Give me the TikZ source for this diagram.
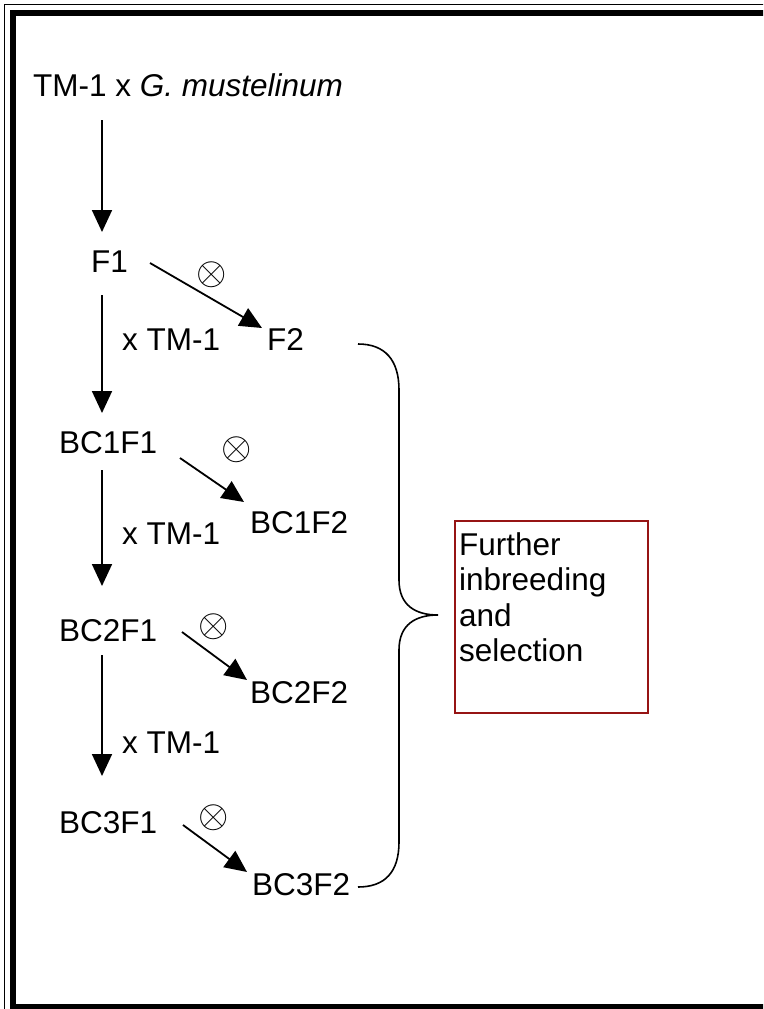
\documentclass[tikz,border=0pt]{standalone}
\usepackage{fontspec}
\usepackage{graphicx}
\setmainfont{Liberation Sans}
\usetikzlibrary{arrows.meta}
\definecolor{boxred}{RGB}{150,20,20}
\newcommand{\selfmark}{\scalebox{3.9}{$\otimes$}}
\tikzset{
  lbl/.style={anchor=base west, inner sep=0pt, font=\fontsize{31.5}{36}\selectfont},
  selfsym/.style={inner sep=0pt},
  arr/.style={line width=1.8pt, -{Triangle[length=22pt,width=20pt]}},
  brace/.style={line width=1.6pt},
  notebox/.style={draw=boxred, line width=1.8pt}
}
\begin{document}
\begin{tikzpicture}[x=1pt,y=-1pt]
\useasboundingbox (0,0) rectangle (763,1009);
\clip (0,0) rectangle (763,1009);
% frame
\draw[line width=1.5pt] (4.5,1030) -- (4.5,4.5) -- (800,4.5);
\draw[line width=6pt] (13,1006.5) -- (13,13) -- (800,13);
\draw[line width=6pt] (10,1006.5) -- (800,1006.5);

% labels
\node[lbl] (P) at (33,96.5) {TM-1 x \textit{G. mustelinum}};
\node[lbl] (F1) at (91,272) {F1};
\node[lbl] (F2) at (267,350) {F2};
\node[lbl] (X1) at (122,350) {x TM-1};
\node[lbl] (B1) at (59,453) {BC1F1};
\node[lbl] (B1F2) at (250,533) {BC1F2};
\node[lbl] (X2) at (122,544) {x TM-1};
\node[lbl] (B2) at (59,641) {BC2F1};
\node[lbl] (B2F2) at (250,703) {BC2F2};
\node[lbl] (X3) at (122,753) {x TM-1};
\node[lbl] (B3) at (59,833) {BC3F1};
\node[lbl] (B3F2) at (252,895) {BC3F2};

% selfing symbols
\node[selfsym] (S0) at (212,275) {\selfmark};
\node[selfsym] (S1) at (237,450) {\selfmark};
\node[selfsym] (S2) at (214,627) {\selfmark};
\node[selfsym] (S3) at (214,818) {\selfmark};

% arrow end points
\coordinate (v0a) at (102,120);  \coordinate (v0b) at (102,232);
\coordinate (v1a) at (102,295);  \coordinate (v1b) at (102,413);
\coordinate (v2a) at (102,470);  \coordinate (v2b) at (102,586);
\coordinate (v3a) at (102,655);  \coordinate (v3b) at (102,776);
\coordinate (d0a) at (150,263);  \coordinate (d0b) at (262,328);
\coordinate (d1a) at (180,458);  \coordinate (d1b) at (244,502);
\coordinate (d2a) at (182,632);  \coordinate (d2b) at (247,680);
\coordinate (d3a) at (183,825);  \coordinate (d3b) at (247,872);

\draw[arr] (v0a) -- (v0b);
\draw[arr] (v1a) -- (v1b);
\draw[arr] (v2a) -- (v2b);
\draw[arr] (v3a) -- (v3b);
\draw[arr] (d0a) -- (d0b);
\draw[arr] (d1a) -- (d1b);
\draw[arr] (d2a) -- (d2b);
\draw[arr] (d3a) -- (d3b);

% brace
\coordinate (bt) at (358,344);
\coordinate (bb) at (358,887);
\coordinate (tip) at (438,615);
\draw[brace] (bt) .. controls (385,344) and (399,360) .. (399,390) -- (399,580)
  .. controls (399,605) and (415,615) .. (tip)
  .. controls (415,615) and (399,625) .. (399,650) -- (399,842)
  .. controls (399,872) and (385,887) .. (bb);

% box
\node[notebox, anchor=north west, minimum width=193pt, minimum height=192pt, inner sep=0pt] (N) at (454,520) {};
\node[anchor=north west, inner sep=0pt, align=left, font=\fontsize{31.5}{35.5}\selectfont] (NT) at (459,532) {Further\\inbreeding\\and\\selection};
\end{tikzpicture}
\end{document}
